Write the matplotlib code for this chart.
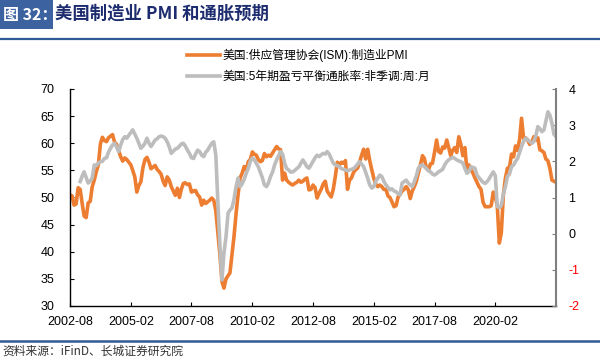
import numpy as np
import pandas as pd
import matplotlib
matplotlib.use('Agg')
import matplotlib.pyplot as plt
from matplotlib.patches import Rectangle
from matplotlib.lines import Line2D

plt.rcParams['font.family'] = ['Liberation Sans', 'Noto Sans CJK SC']

# ---------------- data ----------------
pmi_start = '2002-08-01'
pmi = [
    50.5, 50.3, 48.6, 48.8, 51.8,                                        # 2002
    51.5, 48.8, 46.6, 46.3, 49.0, 49.3, 52.0, 53.2, 54.8, 56.0, 59.9, 61.1,  # 2003
    60.5, 60.3, 61.0, 61.3, 61.6, 60.2, 59.8, 58.7, 57.5, 56.7, 57.3, 57.0,  # 2004
    56.5, 56.0, 55.0, 53.8, 51.0, 52.2, 52.9, 55.5, 57.0, 57.4, 56.5, 55.3,  # 2005
    55.6, 55.9, 55.2, 54.8, 54.3, 53.0, 52.2, 53.8, 53.2, 52.0, 51.2, 50.4,  # 2006
    51.7, 50.0, 51.5, 52.6, 52.7, 52.4, 52.5, 51.0, 51.2, 51.3, 50.5, 50.1,  # 2007
    48.6, 49.5, 48.9, 49.2, 49.5, 49.9, 49.5, 47.5, 43.5, 39.5, 34.5, 33.3,  # 2008
    35.0, 35.6, 36.1, 39.5, 42.8, 47.0, 50.5, 53.6, 54.5, 55.7, 55.0, 56.6,  # 2009
    57.0, 58.4, 58.0, 57.8, 57.0, 56.6, 56.8, 58.1, 57.5, 57.8, 57.6, 58.2,  # 2010
    58.8, 59.4, 59.0, 58.8, 53.2, 54.5, 53.2, 52.8, 52.5, 52.3, 52.6, 52.8,  # 2011
    53.2, 52.8, 53.0, 53.4, 53.6, 51.4, 51.5, 52.3, 51.8, 49.9, 50.8, 51.5,  # 2012
    52.5, 53.0, 51.2, 50.6, 50.1, 51.5, 53.8, 56.5, 56.0, 56.5, 56.3, 56.8,  # 2013
    51.5, 53.2, 53.6, 54.6, 55.1, 55.4, 56.5, 57.8, 58.9, 57.1, 58.9, 56.8,  # 2014
    55.1, 53.5, 52.5, 52.0, 52.3, 52.0, 51.5, 51.5, 50.3, 50.0, 49.2, 48.3,  # 2015
    48.5, 50.1, 50.6, 51.2, 51.5, 52.0, 51.5, 49.8, 51.2, 52.0, 53.0, 54.5,  # 2016
    56.0, 57.7, 57.2, 55.4, 55.0, 56.2, 56.3, 58.3, 60.6, 58.5, 58.2, 59.3,  # 2017
    59.1, 60.6, 59.3, 57.7, 58.7, 59.2, 58.3, 61.2, 59.8, 57.7, 59.2, 55.0,  # 2018
    56.0, 55.1, 54.5, 53.6, 52.8, 52.0, 51.5, 49.1, 48.3, 48.3, 48.3, 48.5,  # 2019
    51.0, 50.1, 48.5, 41.6, 43.5, 50.5, 53.5, 55.4, 55.5, 58.0, 57.5, 59.5,  # 2020
    58.7, 60.8, 64.6, 60.9, 61.0, 60.6, 59.8, 60.1, 61.2, 60.6, 61.0, 58.8,  # 2021
    58.6, 58.3, 57.1, 56.8, 55.4, 53.2, 53.0, 52.8,                          # 2022
]

bei_start = '2003-01-01'
bei = [
    1.44, 1.60, 1.71, 1.55, 1.40, 1.45, 1.54, 1.90, 1.88, 1.95, 1.99, 2.00,  # 2003
    2.08, 2.10, 2.25, 2.36, 2.45, 2.50, 2.40, 2.27, 2.45, 2.60, 2.68, 2.64,  # 2004
    2.72, 2.80, 2.87, 2.75, 2.64, 2.50, 2.36, 2.42, 2.50, 2.64, 2.50, 2.41,  # 2005
    2.50, 2.59, 2.62, 2.68, 2.70, 2.68, 2.64, 2.54, 2.40, 2.22, 2.28, 2.34,  # 2006
    2.36, 2.42, 2.48, 2.50, 2.42, 2.31, 2.22, 2.10, 2.08, 2.20, 2.31, 2.27,  # 2007
    2.17, 2.13, 2.25, 2.31, 2.41, 2.50, 2.54, 2.17, 0.85, -0.30, -1.28, -0.54,  # 2008
    -0.08, 0.57, 0.65, 0.71, 0.95, 1.30, 1.54, 1.30, 1.38, 1.50, 1.67, 1.80,  # 2009
    2.00, 2.09, 2.05, 1.95, 1.85, 1.70, 1.55, 1.35, 1.30, 1.40, 1.58, 1.70,  # 2010
    1.90, 2.04, 2.15, 2.27, 2.20, 1.95, 1.80, 1.76, 1.70, 1.71, 1.75, 1.80,  # 2011
    1.85, 1.95, 2.04, 1.95, 1.85, 1.81, 1.90, 2.00, 2.10, 2.17, 2.13, 2.18,  # 2012
    2.22, 2.20, 2.27, 2.20, 2.08, 1.95, 1.90, 1.88, 1.85, 1.80, 1.78, 1.76,  # 2013
    1.74, 1.76, 1.78, 1.80, 1.85, 1.92, 1.99, 1.92, 1.85, 1.70, 1.53, 1.35,  # 2014
    1.26, 1.30, 1.45, 1.53, 1.62, 1.58, 1.45, 1.35, 1.28, 1.21, 1.24, 1.18,  # 2015
    1.16, 1.10, 1.07, 1.40, 1.44, 1.48, 1.40, 1.35, 1.30, 1.44, 1.60, 1.81,  # 2016
    1.88, 1.90, 1.85, 1.80, 1.74, 1.71, 1.65, 1.62, 1.66, 1.71, 1.74, 1.78,  # 2017
    1.90, 1.99, 2.04, 2.08, 2.11, 2.08, 2.04, 2.01, 1.99, 1.95, 1.80, 1.67,  # 2018
    1.72, 1.85, 1.83, 1.81, 1.62, 1.55, 1.48, 1.42, 1.39, 1.44, 1.52, 1.62,  # 2019
    1.71, 1.60, 0.75, 0.72, 0.78, 1.10, 1.30, 1.58, 1.65, 1.85, 1.90, 2.00,  # 2020
    2.08, 2.25, 2.41, 2.55, 2.64, 2.60, 2.55, 2.50, 2.54, 2.70, 2.96, 2.90,  # 2021
    2.82, 2.87, 3.10, 3.37, 3.28, 3.05, 2.75, 2.68,                          # 2022
]

pmi_label = '美国:供应管理协会(ISM):制造业PMI'
bei_label = '美国:5年期盈亏平衡通胀率:非季调:周:月'
xtick_start = '2002-08-01'
xtick_labels = ['2002-08', '2005-02', '2007-08', '2010-02', '2012-08',
                '2015-02', '2017-08', '2020-02', '']
left_ticks = [30, 35, 40, 45, 50, 55, 60, 65, 70]
right_ticks = [-2, -1, 0, 1, 2, 3, 4]

title_tag = '图 32：'
title_text = '美国制造业 PMI 和通胀预期'
source_text = '资料来源：iFinD、长城证券研究院'

# ---------------- figure ----------------
W, H = 600, 360
fig = plt.figure(figsize=(W / 100, H / 100), dpi=100)

def fx(px):
    return px / W

def fy(py):
    return 1 - py / H

ORANGE = '#ED7D31'
GRAY = '#BDBDBD'
BLUE = '#2F5A96'

ax = fig.add_axes([fx(70), fy(306), fx(556) - fx(70), fy(89) - fy(306)])
ax2 = ax.twinx()

d_pmi = pd.date_range(pmi_start, periods=len(pmi), freq='MS')
d_bei = pd.date_range(bei_start, periods=len(bei), freq='MS')

l1, = ax.plot(d_pmi, pmi, color=ORANGE, lw=2.6, solid_joinstyle='round', label=pmi_label)
l2, = ax2.plot(d_bei, bei, color=GRAY, lw=2.6, solid_joinstyle='round', label=bei_label)

xt = pd.date_range(xtick_start, periods=len(xtick_labels), freq='30MS')
ax.set_xlim(xt[0], xt[-1])
ax.set_xticks(xt)
ax.set_xticklabels(xtick_labels)

ax.set_ylim(30, 70)
ax.set_yticks(left_ticks)
ax2.set_ylim(-2, 4)
ax2.set_yticks(right_ticks)
ax2.set_yticklabels([str(v) for v in right_ticks])
for t, v in zip(ax2.get_yticklabels(), right_ticks):
    t.set_color('#FF0000' if v < 0 else 'black')

for a in (ax, ax2):
    a.spines['top'].set_visible(False)
ax.spines['right'].set_visible(False)
ax2.spines['left'].set_visible(False)
ax2.spines['bottom'].set_visible(False)
ax2.spines['right'].set_color('#808080')
ax2.spines['right'].set_linewidth(1.5)
ax.spines['left'].set_linewidth(1.0)
ax.spines['bottom'].set_linewidth(1.0)

ax.tick_params(axis='y', direction='in', length=3, pad=11, labelsize=9)
ax.tick_params(axis='x', direction='in', length=3, pad=7, labelsize=9)
ax2.tick_params(axis='y', direction='in', length=3, pad=9, labelsize=9, color='#808080')

ax.set_zorder(2)
ax2.set_zorder(3)
ax.patch.set_visible(False)

leg = fig.legend([l1, l2], [pmi_label, bei_label], loc='upper left',
                 bbox_to_anchor=(fx(187), fy(49)), frameon=False,
                 prop={'size': 8.5}, handlelength=2.8, handletextpad=0.2,
                 labelspacing=0.75, borderpad=0, borderaxespad=0)

# title bar
fig.add_artist(Rectangle((0, fy(29)), fx(53), fy(0) - fy(29), transform=fig.transFigure,
                         color='#3D62A0', lw=0))
fig.text(fx(3), fy(15), title_tag, color='white', fontsize=11.5, fontweight='bold',
         va='center', ha='left', family=['Noto Sans CJK SC'])
fig.text(fx(55), fy(14), title_text, color='#1C2C6E', fontsize=12.5, fontweight='bold',
         va='center', ha='left', family=['Noto Sans CJK SC'])
fig.add_artist(Line2D([0, 1], [fy(39), fy(39)], transform=fig.transFigure, color=BLUE, lw=1.6))

# bottom rule + source
fig.add_artist(Line2D([0, 1], [fy(341), fy(341)], transform=fig.transFigure, color=BLUE, lw=1.8))
fig.text(fx(2), fy(351), source_text, color='#333333', fontsize=8.5, style='italic',
         va='center', ha='left', family=['Noto Sans CJK SC'])

fig.savefig('out.png', dpi=100)
